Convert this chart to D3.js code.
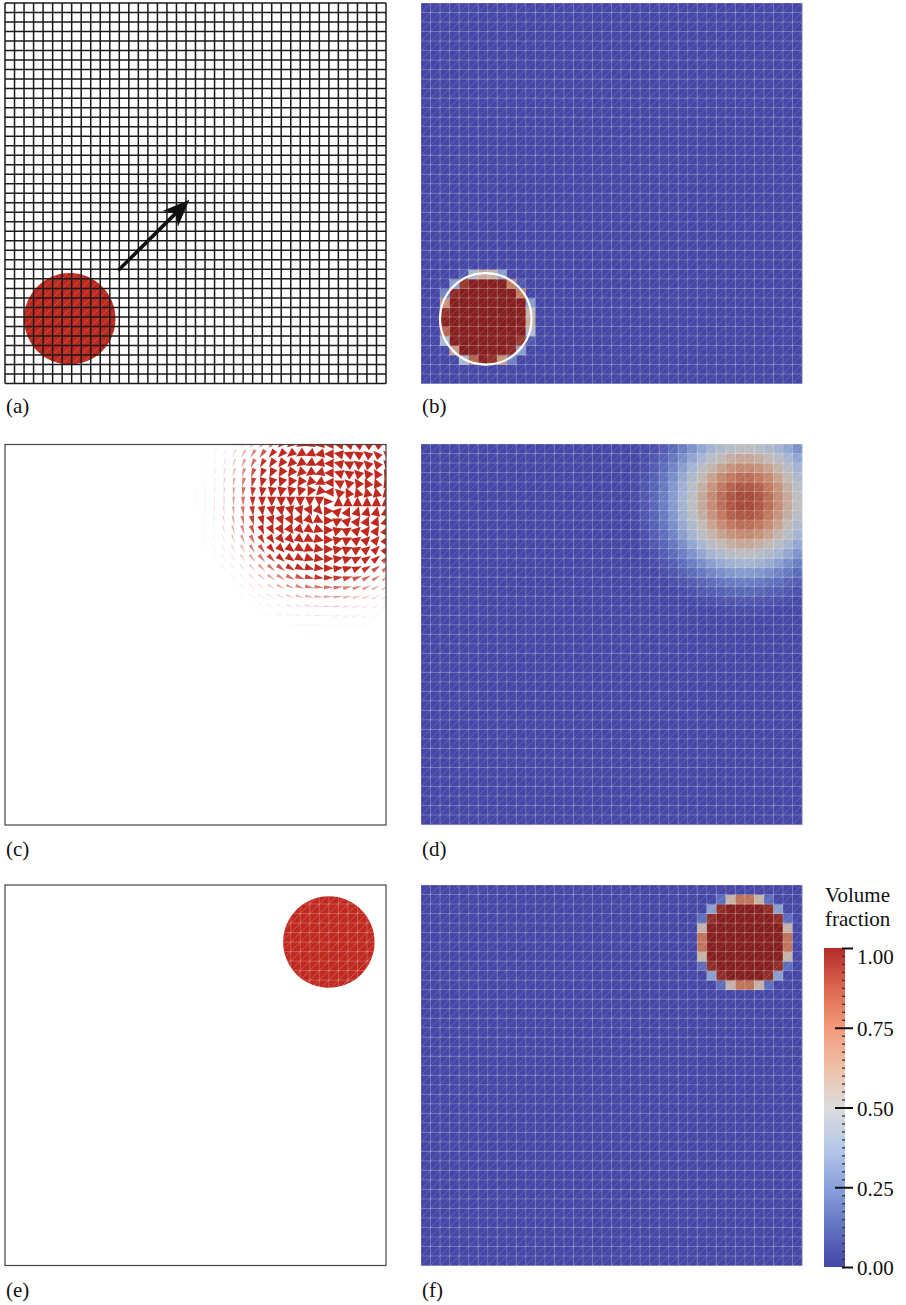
<!DOCTYPE html>
<html>
<head>
<meta charset="utf-8">
<script src="https://cdn.jsdelivr.net/npm/d3@7"></script>
<style>
  body { margin: 0; background: #fff; }
  svg { display: block; }
  text { font-family: "Liberation Serif", "Times New Roman", serif; fill: #111; }
</style>
</head>
<body>
<svg id="fig" width="906" height="1305"></svg>
<script>
// ---- data -------------------------------------------------------------
// mesh resolution: cells per side of the unit square
const meshCells = 40;
// droplet: initial centre, final centre, radius (unit square coordinates)
const dropStart = [0.17, 0.17];
const dropEnd = [0.85, 0.85];
const dropRadius = 0.12;
// transport direction arrow: tail and tip
const arrowTail = [0.297, 0.297];
const arrowTip = [0.484, 0.483];
// smeared volume fraction versus distance from the droplet centre (in cells)
const smearDist = [0, 1, 2, 3, 4, 5, 6, 7, 8, 9, 10, 11, 12];
const smearFraction = [0.9, 0.88, 0.83, 0.75, 0.65, 0.54, 0.43, 0.32, 0.21, 0.13, 0.07, 0.03, 0.0];
// relative velocity magnitude versus distance from the droplet centre (in cells)
const velDist = [0, 1, 2, 3, 4, 5, 6, 7, 8, 9, 10, 11, 12, 13, 14, 15];
const velMag = [0.8, 1, 1, 1, 1, 1, 0.95, 0.8, 0.6, 0.42, 0.28, 0.17, 0.1, 0.05, 0.02, 0];
// colour bar
const cbTicks = [0, 0.25, 0.5, 0.75, 1];
const cbTickLabels = ["0.00", "0.25", "0.50", "0.75", "1.00"];
const cbTitle = ["Volume", "fraction"];
// diverging colour map (cool to warm)
const cmapPos = [0, 0.125, 0.25, 0.375, 0.5, 0.625, 0.75, 0.875, 1];
const cmapCol = ["#4646a6", "#6173c2", "#8aa2dc", "#b7c8ea", "#dcdcdc", "#efc0a8", "#f39a7a", "#dc6650", "#b62a2a"];
const panelLabels = ["(a)", "(b)", "(c)", "(d)", "(e)", "(f)"];

// ---- layout -----------------------------------------------------------
const W = 381, H = 380.5;
const panels = [
  { x: 5,   y: 3 },
  { x: 421, y: 3 },
  { x: 5,   y: 444.5 },
  { x: 421, y: 444 },
  { x: 5,   y: 885 },
  { x: 421, y: 885 }
];
const labelPos = [[6, 413], [422, 413], [6, 856], [422, 856], [6, 1297], [422, 1297]];
const dropRed = "#c0291f";
const fontSize = 21;

const svg = d3.select("#fig");
const defs = svg.append("defs");

const cmap = d3.scaleLinear().domain(cmapPos).range(cmapCol).interpolate(d3.interpolateRgb).clamp(true);
// rendered field colour: warm end is shaded darker in the field views
function fieldColor(v) {
  const c = d3.rgb(cmap(v));
  const k = 1 - 0.27 * v;
  return d3.rgb(c.r * k, c.g * k, c.b * k).formatHex();
}

function scales(p) {
  return {
    x: d3.scaleLinear().domain([0, 1]).range([p.x, p.x + W]),
    y: d3.scaleLinear().domain([0, 1]).range([p.y + H, p.y])
  };
}

// path of grid lines and cell diagonals
function meshPath(s, withGrid, withDiag) {
  const h = 1 / meshCells;
  const path = d3.path();
  if (withGrid) {
    for (let i = 0; i <= meshCells; i++) {
      path.moveTo(s.x(i * h), s.y(0)); path.lineTo(s.x(i * h), s.y(1));
      path.moveTo(s.x(0), s.y(i * h)); path.lineTo(s.x(1), s.y(i * h));
    }
  }
  if (withDiag) {
    for (let i = 0; i < meshCells; i++) {
      for (let j = 0; j < meshCells; j++) {
        path.moveTo(s.x(i * h), s.y(j * h));
        path.lineTo(s.x((i + 1) * h), s.y((j + 1) * h));
      }
    }
  }
  return path.toString();
}

// fraction of a cell covered by the droplet disc
function coverage(i, j, c, r) {
  const h = 1 / meshCells, n = 10;
  let inside = 0;
  for (let a = 0; a < n; a++) for (let b = 0; b < n; b++) {
    const px = (i + (a + 0.5) / n) * h, py = (j + (b + 0.5) / n) * h;
    if ((px - c[0]) ** 2 + (py - c[1]) ** 2 <= r * r) inside++;
  }
  return inside / (n * n);
}

function cells(valueFn) {
  const out = [];
  for (let i = 0; i < meshCells; i++)
    for (let j = 0; j < meshCells; j++)
      out.push({ i, j, v: valueFn(i, j) });
  return out;
}

function drawField(g, s, data) {
  const h = 1 / meshCells;
  g.append("g").selectAll("rect").data(data).join("rect")
    .attr("x", d => s.x(d.i * h))
    .attr("y", d => s.y((d.j + 1) * h))
    .attr("width", s.x(h) - s.x(0) + 0.4)
    .attr("height", s.y(0) - s.y(h) + 0.4)
    .attr("fill", d => fieldColor(d.v));
  g.append("path").attr("d", meshPath(s, true, false))
    .attr("fill", "none").attr("stroke", "#fff").attr("stroke-opacity", 0.3).attr("stroke-width", 0.8);
  g.append("path").attr("d", meshPath(s, false, true))
    .attr("fill", "none").attr("stroke", "#fff").attr("stroke-opacity", 0.24).attr("stroke-width", 0.7);
}

// ---- (a) initial droplet on the mesh with transport direction ---------
{
  const s = scales(panels[0]);
  const g = svg.append("g");
  const rPx = s.x(dropRadius) - s.x(0);
  defs.append("clipPath").attr("id", "clipA").append("circle")
    .attr("cx", s.x(dropStart[0])).attr("cy", s.y(dropStart[1])).attr("r", rPx);
  g.append("circle").attr("cx", s.x(dropStart[0])).attr("cy", s.y(dropStart[1])).attr("r", rPx)
    .attr("fill", dropRed);
  g.append("path").attr("d", meshPath(s, false, true)).attr("clip-path", "url(#clipA)")
    .attr("fill", "none").attr("stroke", "#fff").attr("stroke-opacity", 0.25).attr("stroke-width", 0.7);
  g.append("path").attr("d", meshPath(s, true, false))
    .attr("fill", "none").attr("stroke", "#1a1a1a").attr("stroke-width", 1.5);

  // arrow
  const x0 = s.x(arrowTail[0]), y0 = s.y(arrowTail[1]);
  const x1 = s.x(arrowTip[0]), y1 = s.y(arrowTip[1]);
  const len = Math.hypot(x1 - x0, y1 - y0);
  const ux = (x1 - x0) / len, uy = (y1 - y0) / len;
  const nx = -uy, ny = ux;
  const headL = 27, headW = 11, notch = 8;
  g.append("line").attr("x1", x0).attr("y1", y0)
    .attr("x2", x1 - ux * (headL - notch)).attr("y2", y1 - uy * (headL - notch))
    .attr("stroke", "#111").attr("stroke-width", 3.6);
  const head = d3.path();
  head.moveTo(x1, y1);
  head.lineTo(x1 - ux * headL + nx * headW, y1 - uy * headL + ny * headW);
  head.lineTo(x1 - ux * (headL - notch), y1 - uy * (headL - notch));
  head.lineTo(x1 - ux * headL - nx * headW, y1 - uy * headL - ny * headW);
  head.closePath();
  g.append("path").attr("d", head.toString()).attr("fill", "#111");
}

// ---- (b) initial volume fraction ------------------------------------
{
  const s = scales(panels[1]);
  const g = svg.append("g");
  drawField(g, s, cells((i, j) => coverage(i, j, dropStart, dropRadius)));
  g.append("circle").attr("cx", s.x(dropStart[0])).attr("cy", s.y(dropStart[1]))
    .attr("r", s.x(dropRadius) - s.x(0))
    .attr("fill", "none").attr("stroke", "#fff").attr("stroke-width", 2.2);
}

// ---- (c) velocity glyphs --------------------------------------------
{
  const p = panels[2];
  const s = scales(p);
  const g = svg.append("g");
  defs.append("clipPath").attr("id", "clipC").append("rect")
    .attr("x", p.x).attr("y", p.y).attr("width", W).attr("height", H);
  const velScale = d3.scaleLinear().domain(velDist).range(velMag).clamp(true);
  const cellPx = s.x(1 / meshCells) - s.x(0);
  const glyphs = [];
  for (let i = 0; i <= meshCells; i++) {
    for (let j = 0; j <= meshCells; j++) {
      const px = i / meshCells, py = j / meshCells;
      const dx = px - dropEnd[0], dy = py - dropEnd[1];
      const r = Math.hypot(dx, dy) * meshCells;
      const m = velScale(r);
      if (m <= 0.005) continue;
      glyphs.push({ px, py, dx, dy, r, m });
    }
  }
  const gg = g.append("g").attr("clip-path", "url(#clipC)");
  gg.selectAll("path").data(glyphs).join("path")
    .attr("d", d => {
      const cx = s.x(d.px), cy = s.y(d.py);
      const rr = Math.hypot(d.dx, d.dy) || 1;
      // tangential direction (screen coordinates)
      let ux = -d.dy / rr, uy = -d.dx / rr;
      if (d.r < 0.01) { ux = 1; uy = 0; }
      const nx = -uy, ny = ux;
      const L = cellPx * 1.0, w = cellPx * Math.max(0.12, d.m);
      const path = d3.path();
      path.moveTo(cx + ux * L / 2, cy + uy * L / 2);
      path.lineTo(cx - ux * L / 2 + nx * w / 2, cy - uy * L / 2 + ny * w / 2);
      path.lineTo(cx - ux * L / 2 - nx * w / 2, cy - uy * L / 2 - ny * w / 2);
      path.closePath();
      return path.toString();
    })
    .attr("fill", dropRed)
    .attr("fill-opacity", d => Math.min(1, d.m * 1.6));
  g.append("rect").attr("x", p.x).attr("y", p.y).attr("width", W).attr("height", H)
    .attr("fill", "none").attr("stroke", "#444").attr("stroke-width", 1.2);
}

// ---- (d) smeared volume fraction ------------------------------------
{
  const s = scales(panels[3]);
  const g = svg.append("g");
  const smear = d3.scaleLinear().domain(smearDist).range(smearFraction).clamp(true);
  drawField(g, s, cells((i, j) => {
    const cx = (i + 0.5) / meshCells, cy = (j + 0.5) / meshCells;
    return smear(Math.hypot(cx - dropEnd[0], cy - dropEnd[1]) * meshCells);
  }));
}

// ---- (e) exact final droplet ----------------------------------------
{
  const p = panels[4];
  const s = scales(p);
  const g = svg.append("g");
  const rPx = s.x(dropRadius) - s.x(0);
  defs.append("clipPath").attr("id", "clipE").append("circle")
    .attr("cx", s.x(dropEnd[0])).attr("cy", s.y(dropEnd[1])).attr("r", rPx);
  g.append("circle").attr("cx", s.x(dropEnd[0])).attr("cy", s.y(dropEnd[1])).attr("r", rPx)
    .attr("fill", dropRed);
  g.append("path").attr("d", meshPath(s, true, true)).attr("clip-path", "url(#clipE)")
    .attr("fill", "none").attr("stroke", "#fff").attr("stroke-opacity", 0.3).attr("stroke-width", 0.8);
  g.append("rect").attr("x", p.x).attr("y", p.y).attr("width", W).attr("height", H)
    .attr("fill", "none").attr("stroke", "#444").attr("stroke-width", 1.2);
}

// ---- (f) final volume fraction --------------------------------------
{
  const s = scales(panels[5]);
  const g = svg.append("g");
  drawField(g, s, cells((i, j) => coverage(i, j, dropEnd, dropRadius)));
}

// ---- panel labels ---------------------------------------------------
svg.append("g").selectAll("text").data(panelLabels).join("text")
  .attr("x", (d, i) => labelPos[i][0]).attr("y", (d, i) => labelPos[i][1])
  .attr("font-size", fontSize).text(d => d);

// ---- colour bar -----------------------------------------------------
{
  const cbX = 824, cbW = 21, cbTop = 948, cbBottom = 1267;
  const cbY = d3.scaleLinear().domain([0, 1]).range([cbBottom, cbTop]);
  const grad = defs.append("linearGradient").attr("id", "cbGrad")
    .attr("x1", 0).attr("y1", 1).attr("x2", 0).attr("y2", 0);
  grad.selectAll("stop").data(cmapPos).join("stop")
    .attr("offset", d => d).attr("stop-color", (d, i) => cmapCol[i]);
  svg.append("rect").attr("x", cbX).attr("y", cbTop).attr("width", cbW).attr("height", cbBottom - cbTop)
    .attr("fill", "url(#cbGrad)");

  const minorVals = d3.range(0, 41).map(k => k / 40).filter(v => !cbTicks.some(t => Math.abs(t - v) < 1e-9));
  const minor = svg.append("g").attr("transform", `translate(${cbX + cbW - 3},0)`)
    .call(d3.axisRight(cbY).tickValues(minorVals).tickSize(3).tickFormat(""));
  minor.select(".domain").remove();
  minor.selectAll("line").attr("stroke", "#333").attr("stroke-width", 1.3);

  const major = svg.append("g").attr("transform", `translate(835,0)`)
    .call(d3.axisRight(cbY).tickValues(cbTicks).tickSize(18).tickPadding(4)
      .tickFormat((d, i) => cbTickLabels[i]));
  major.select(".domain").remove();
  major.selectAll("line").attr("stroke", "#111").attr("stroke-width", 2)
    .attr("x1", d => (d === 0 || d === 1) ? 7 : 0);
  major.selectAll("text")
    .attr("font-family", "Liberation Serif, serif").attr("font-size", fontSize).attr("fill", "#111")
    .attr("dy", d => d === 1 ? "0.72em" : "0.38em");

  svg.append("g").selectAll("text").data(cbTitle).join("text")
    .attr("x", 825).attr("y", (d, i) => 902 + i * 23.5)
    .attr("font-size", fontSize).text(d => d);
}
</script>
</body>
</html>
